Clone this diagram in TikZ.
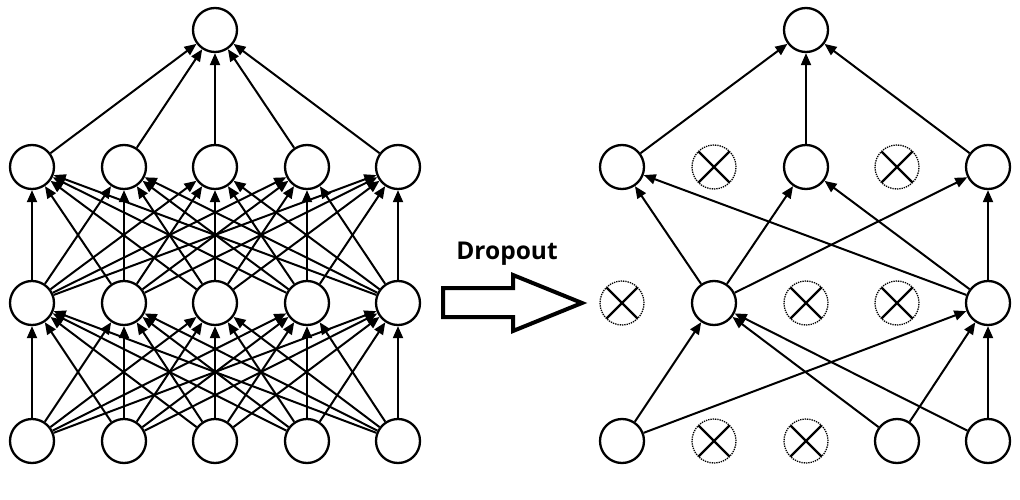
\documentclass[tikz,border=0pt]{standalone}
\usepackage{fontspec}
\setsansfont{Open Sans}
\usetikzlibrary{arrows.meta}
\begin{document}
\begin{tikzpicture}[x=1pt,y=-1pt,
  neuron/.style={circle,draw,line width=2.3pt,minimum size=44pt,inner sep=0pt,fill=white},
  dropped/.style={circle,draw,densely dotted,line width=1.3pt,minimum size=44pt,inner sep=0pt,
    path picture={\draw[line width=2.2pt,solid] ([shift={(6.5pt,-6.5pt)}]path picture bounding box.north west) -- ([shift={(-6.5pt,6.5pt)}]path picture bounding box.south east);
                  \draw[line width=2.2pt,solid] ([shift={(6.5pt,6.5pt)}]path picture bounding box.south west) -- ([shift={(-6.5pt,-6.5pt)}]path picture bounding box.north east);}},
  conn/.style={line width=2pt,-{Triangle[length=12pt,width=10pt]}},
  blockarrow/.style={line width=4pt,line join=miter,fill=white}]
\useasboundingbox (0,0) rectangle (1020,500);
% ---------- left network ----------
\foreach \i/\x in {1/32,2/124,3/215,4/307,5/398}{
  \node[neuron] (L0\i) at (\x,441) {};
  \node[neuron] (L1\i) at (\x,303) {};
  \node[neuron] (L2\i) at (\x,167) {};
}
\node[neuron] (LO) at (215,30) {};
\foreach \i in {1,...,5}{
  \foreach \j in {1,...,5}{
    \draw[conn] (L0\i) -- (L1\j);
    \draw[conn] (L1\i) -- (L2\j);
  }
  \draw[conn] (L2\i) -- (LO);
}
% ---------- arrow ----------
\draw[blockarrow] (443,288) -- (513,288) -- (513,275) -- (582,303) -- (513,331) -- (513,317) -- (443,317) -- cycle;
\node[font=\sffamily\bfseries\fontsize{24.5}{28}\selectfont] (lbl) at (507,254) {Dropout};
% ---------- right network ----------
\node[neuron] (R01) at (622,441) {};
\node[dropped] (R02) at (714,441) {};
\node[dropped] (R03) at (806,441) {};
\node[neuron] (R04) at (897,441) {};
\node[neuron] (R05) at (988,441) {};
\node[dropped] (R11) at (622,303) {};
\node[neuron] (R12) at (714,303) {};
\node[dropped] (R13) at (806,303) {};
\node[dropped] (R14) at (897,303) {};
\node[neuron] (R15) at (988,303) {};
\node[neuron] (R21) at (622,167) {};
\node[dropped] (R22) at (714,167) {};
\node[neuron] (R23) at (806,167) {};
\node[dropped] (R24) at (897,167) {};
\node[neuron] (R25) at (988,167) {};
\node[neuron] (RO) at (806,30) {};
\foreach \a in {R01,R04,R05}{
  \foreach \b in {R12,R15}{
    \draw[conn] (\a) -- (\b);
  }
}
\foreach \a in {R12,R15}{
  \foreach \b in {R21,R23,R25}{
    \draw[conn] (\a) -- (\b);
  }
}
\foreach \a in {R21,R23,R25}{
  \draw[conn] (\a) -- (RO);
}
\end{tikzpicture}
\end{document}
